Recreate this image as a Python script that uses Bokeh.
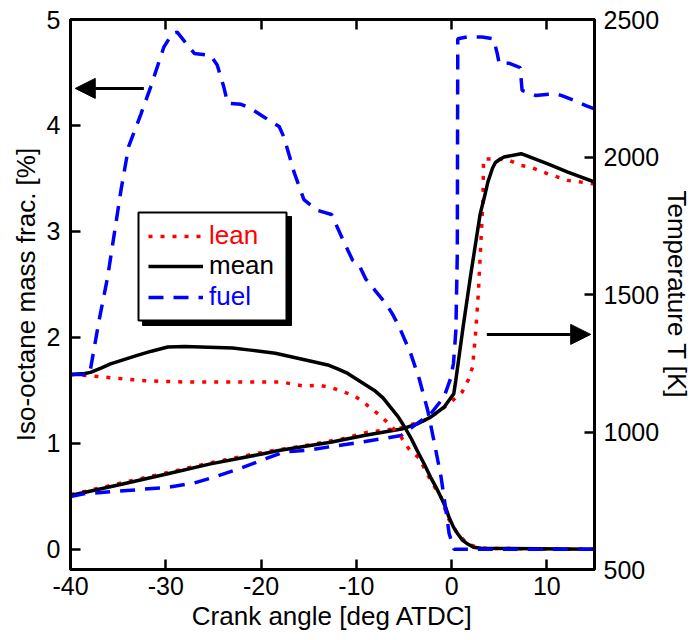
from bokeh.plotting import figure
from bokeh.models import (Range1d, LinearAxis, FixedTicker, Arrow, NormalHead,
                          Legend, LegendItem, BoxAnnotation)
from bokeh.embed import file_html
from bokeh.resources import INLINE

# ---------------- data ----------------
# Iso-octane mass fraction [%] (left axis)
lean_mass_x = [-40, -38.2, -35.8, -32, -28.1, -25.6, -21.8, -17.9, -15.5, -14.1, -12.7, -11.5,
               -10.2, -9.0, -7.6, -6.4, -5.3, -4.5, -3.4, -2.2, -1.1, -0.4, 0.6, 1.7, 3.0, 15]
lean_mass_y = [1.65, 1.64, 1.62, 1.59, 1.58, 1.58, 1.58, 1.58, 1.54, 1.55, 1.53, 1.49,
               1.45, 1.37, 1.27, 1.17, 1.06, 0.95, 0.86, 0.65, 0.49, 0.30, 0.15, 0.05, 0.01, 0.0]

mean_mass_x = [-40, -38.5, -37.9, -36.8, -35.8, -34.4, -33, -31.5, -29.8, -28, -26.3, -23,
               -21.1, -18.5, -16.5, -14.5, -13, -11.9, -10.9, -9.5, -8.1, -7.2, -6.4, -5.6,
               -4.9, -4.2, -3.6, -2.9, -2.2, -1.6, -1.1, -0.6, -0.26, 0.2, 0.62, 1.1, 1.7,
               2.3, 3.1, 15]
mean_mass_y = [1.65, 1.66, 1.67, 1.71, 1.75, 1.79, 1.83, 1.87, 1.91, 1.915, 1.91, 1.90,
               1.88, 1.85, 1.81, 1.77, 1.74, 1.70, 1.66, 1.58, 1.50, 1.43, 1.34, 1.25,
               1.15, 1.04, 0.93, 0.81, 0.68, 0.58, 0.49, 0.39, 0.30, 0.21, 0.15, 0.09, 0.05,
               0.02, 0.01, 0.0]

fuel_mass_x = [-40, -38.0, -37.55, -37.0, -36.1, -34.7, -33.9, -32.6, -31.6, -30.2, -29.3, -28.8,
               -27.9, -27.0, -25.3, -24.6, -23.9, -23.5, -22.1, -21.1, -19.7, -18.1, -17.6,
               -16.5, -15.5, -14.1, -12.6, -11.3, -10.4, -9.7, -9.0, -8.0, -6.9, -6.2, -5.5,
               -4.3, -3.4, -2.5, -1.8, -1.1, -0.6, -0.26, 0.26, 15]
fuel_mass_y = [1.65, 1.65, 1.88, 2.16, 2.57, 3.39, 3.80, 4.11, 4.36, 4.74, 4.87, 4.88,
               4.78, 4.68, 4.66, 4.57, 4.36, 4.21, 4.20, 4.16, 4.08, 3.99, 3.89,
               3.55, 3.30, 3.20, 3.16, 2.90, 2.73, 2.68, 2.55, 2.44, 2.32, 2.22, 2.10,
               1.85, 1.61, 1.31, 1.00, 0.68, 0.37, 0.15, 0.0, 0.0]

# Temperature [K] (right axis)
lean_T_x = [-40, -35, -30, -25, -20, -15, -11.5, -8.8, -5.3, -3, -1.5, -0.1, 1.1, 1.8, 2.2,
            2.5, 2.8, 3.05, 3.3, 3.35, 4.6, 5.9, 7.3, 8.3, 10.1, 12.2, 15]
lean_T_y = [772, 812, 851, 890, 925, 953, 975, 999, 1015, 1040, 1070, 1108, 1145, 1193, 1236,
            1350, 1500, 1672, 1850, 1993, 1993, 1990, 1969, 1963, 1939, 1915, 1902]

mean_T_x = [-40, -34.75, -29.9, -25.3, -19.9, -18.15, -12.7, -9.2, -5.1, -3.55, -2.2, -0.8,
            0.23, 0.44, 1.2, 2.0, 3.0, 3.4, 3.8, 4.3, 4.6, 5.0, 5.5, 7.3, 10.1, 12.2, 15]
mean_T_y = [769, 809, 847, 884, 920, 933, 963, 987, 1012, 1030, 1054, 1090,
            1139, 1187, 1380, 1570, 1793, 1848, 1908, 1960, 1980, 1990, 2000, 2012, 1975, 1945,
            1909]

fuel_T_x = [-40, -38.6, -35.5, -33, -29.8, -27, -24.9, -22, -19.5, -17.6, -14.8, -12.3, -10,
            -7.4, -5.3, -3.9, -2.2, -0.8, -0.1, 0.2, 0.45, 0.6, 0.65, 1.8, 3.2, 4.4, 4.8, 5.0,
            6.0, 7.2, 7.4, 8.8, 10.8, 11.5, 12.9, 14.1, 15]
fuel_T_y = [765, 775, 784, 790, 799, 815, 836, 870, 903, 927, 935, 949, 960,
            975, 987, 1024, 1066, 1127, 1195, 1250, 1370, 1650, 2430, 2438, 2436, 2430, 2375, 2339,
            2341, 2325, 2242, 2224, 2230, 2224, 2205, 2187, 2175]

x_ticks = [-40, -30, -20, -10, 0, 10]
x_tick_labels = ["-40", "-30", "-20", "-10", "0", "10"]
mass_ticks = [0, 1, 2, 3, 4, 5]
temp_ticks = [500, 1000, 1500, 2000, 2500]

labels = ["lean", "mean", "fuel"]
colors = ["red", "black", "blue"]

# pointer arrows (annotation positions)
left_arrow = dict(x0=-32.3, x1=-39.5, y=4.35)
right_arrow = dict(x0=3.7, x1=14.6, y=1355)

FONT = "Liberation Sans"

# ---------------- figure ----------------
p = figure(width=695, height=640, x_range=Range1d(-40, 15), y_range=Range1d(-0.19, 5),
           output_backend="svg", toolbar_location=None,
           min_border_left=70, min_border_right=101, min_border_top=19, min_border_bottom=71)
p.extra_y_ranges = {"T": Range1d(500, 2500)}
p.xgrid.visible = False
p.ygrid.visible = False
p.outline_line_color = "black"
p.outline_line_width = 3
p.background_fill_color = "white"
p.border_fill_color = "white"


def style_axis(ax, ticks):
    ax.ticker = FixedTicker(ticks=ticks)
    ax.axis_line_width = 3
    ax.axis_line_color = "black"
    ax.major_tick_in = 10
    ax.major_tick_out = 0
    ax.major_tick_line_width = 2.5
    ax.major_tick_line_color = "black"
    ax.minor_tick_line_color = None
    ax.major_label_text_font = FONT
    ax.major_label_text_font_size = "25px"
    ax.major_label_text_color = "black"
    ax.axis_label_text_font = FONT
    ax.axis_label_text_font_size = "26px"
    ax.axis_label_text_font_style = "normal"
    ax.axis_label_text_color = "black"


xa = p.xaxis[0]
style_axis(xa, x_ticks)
xa.major_label_overrides = dict(zip(x_ticks, x_tick_labels))
xa.axis_label = "Crank angle [deg ATDC]"
xa.major_label_standoff = 7
xa.axis_label_standoff = 3

ya = p.yaxis[0]
style_axis(ya, mass_ticks)
ya.axis_label = "Iso-octane mass frac. [%]"
ya.major_label_standoff = 10
ya.axis_label_standoff = 3

ra = LinearAxis(y_range_name="T")
style_axis(ra, temp_ticks)
ra.axis_label = "Temperature T [K]"
ra.major_label_standoff = 9
ra.axis_label_standoff = 0
p.add_layout(ra, "right")

ta = LinearAxis()
style_axis(ta, x_ticks)
ta.major_label_overrides = {t: "" for t in x_ticks}
ta.major_label_text_font_size = "0px"
ta.major_label_standoff = 0
p.add_layout(ta, "above")

LW = 3.5
DASH = {"lean": "4 8", "mean": "solid", "fuel": "15 10"}

# temperature curves
p.line(lean_T_x, lean_T_y, y_range_name="T", line_color=colors[0], line_width=LW,
       line_dash=DASH["lean"])
p.line(mean_T_x, mean_T_y, y_range_name="T", line_color=colors[1], line_width=LW)
p.line(fuel_T_x, fuel_T_y, y_range_name="T", line_color=colors[2], line_width=LW,
       line_dash=DASH["fuel"])

# mass-fraction curves
r_lean = p.line(lean_mass_x, lean_mass_y, line_color=colors[0], line_width=LW,
                line_dash=DASH["lean"])
r_mean = p.line(mean_mass_x, mean_mass_y, line_color=colors[1], line_width=LW)
r_fuel = p.line(fuel_mass_x, fuel_mass_y, line_color=colors[2], line_width=LW,
                line_dash=DASH["fuel"])

# arrows
p.add_layout(Arrow(end=NormalHead(size=20, fill_color="black", line_color="black", line_width=1),
                   x_start=left_arrow["x0"], y_start=left_arrow["y"],
                   x_end=left_arrow["x1"], y_end=left_arrow["y"],
                   line_width=3, line_color="black"))
p.add_layout(Arrow(end=NormalHead(size=20, fill_color="black", line_color="black", line_width=1),
                   x_start=right_arrow["x0"], y_start=right_arrow["y"],
                   x_end=right_arrow["x1"], y_end=right_arrow["y"], y_range_name="T",
                   line_width=3, line_color="black"))

# legend box with shadow (screen units, relative to the frame)
shadow = BoxAnnotation(left=72, right=221, top=353, bottom=244,
                       left_units="screen", right_units="screen",
                       top_units="screen", bottom_units="screen",
                       fill_color="black", fill_alpha=1, line_color="black", line_alpha=1)
box = BoxAnnotation(left=68, right=216, top=357, bottom=249,
                    left_units="screen", right_units="screen",
                    top_units="screen", bottom_units="screen",
                    fill_color="white", fill_alpha=1, line_color="black", line_width=2,
                    line_alpha=1)
p.add_layout(shadow)
p.add_layout(box)

legend_rows = [318, 288, 257]
for lab, col, rend, vy in zip(labels, colors, [r_lean, r_mean, r_fuel], legend_rows):
    lg = Legend(items=[LegendItem(label=lab, renderers=[rend])], location=(78, vy),
                border_line_color=None, background_fill_alpha=0, padding=0, margin=0,
                glyph_width=55, glyph_height=30, label_height=30, label_standoff=6,
                label_text_font=FONT, label_text_font_size="26px", label_text_color=col,
                spacing=0)
    p.add_layout(lg)

open("out.html", "w").write(file_html(p, INLINE))
